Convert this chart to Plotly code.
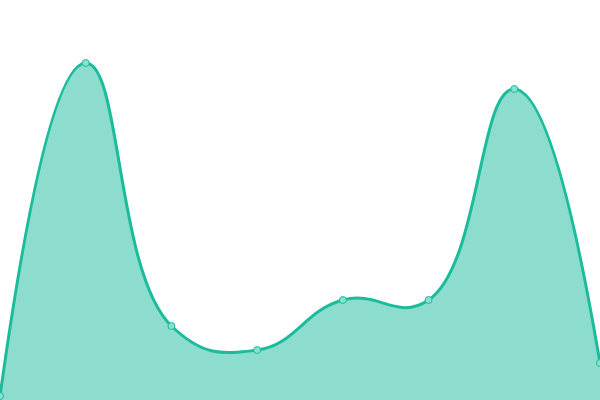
import plotly.graph_objects as go

# category positions and values
categories = [0, 1, 2, 3, 4, 5, 6, 7]
values = [4, 337, 74, 50, 100, 100, 311, 37]

line_color = '#1abc9c'
fill_color = 'rgba(26, 188, 156, 0.5)'

fig = go.Figure()
fig.add_trace(go.Scatter(
    x=categories,
    y=values,
    mode='lines+markers',
    line=dict(color=line_color, width=3, shape='spline', smoothing=1.3),
    fill='tozeroy',
    fillcolor=fill_color,
    marker=dict(size=7, color='#8ae0cf', line=dict(color=line_color, width=1)),
    hoverinfo='skip',
    cliponaxis=False,
))

fig.update_layout(
    width=600,
    height=400,
    margin=dict(l=0, r=0, t=0, b=0),
    paper_bgcolor='white',
    plot_bgcolor='white',
    showlegend=False,
    xaxis=dict(visible=False, range=[0, 7], fixedrange=True),
    yaxis=dict(visible=False, range=[0, 400], fixedrange=True),
)

# drop the default page margin so the chart sits flush in the window
fig.write_html('out.html', config={'displayModeBar': False},
               post_script="document.body.style.margin='0';")
